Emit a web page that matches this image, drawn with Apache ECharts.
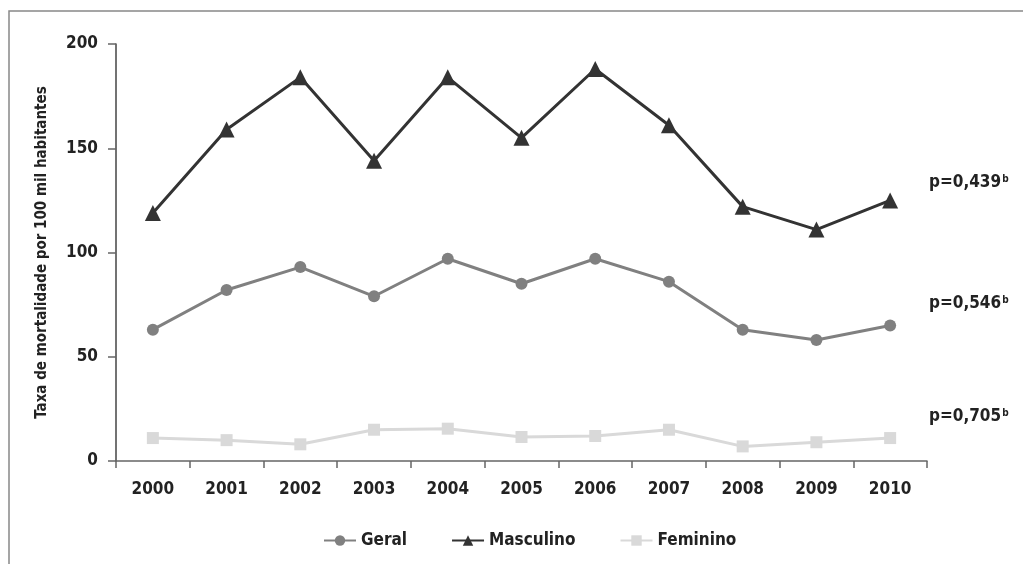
<!DOCTYPE html>
<html>
<head>
<meta charset="utf-8">
<script src="https://cdn.jsdelivr.net/npm/echarts@6/dist/echarts.min.js"></script>
<style>
  html, body { margin: 0; padding: 0; background: #fff; }
  #chart { width: 1023px; height: 564px; }
</style>
</head>
<body>
<div id="chart"></div>
<script>
const years = ['2000', '2001', '2002', '2003', '2004', '2005', '2006', '2007', '2008', '2009', '2010'];
const geral = [63, 82, 93, 79, 97, 85, 97, 86, 63, 58, 65];
const masculino = [119, 159, 184, 144, 184, 155, 188, 161, 122, 111, 125];
const feminino = [11, 10, 8, 15, 15.5, 11.5, 12, 15, 7, 9, 11];
const pLabels = ['p=0,439', 'p=0,546', 'p=0,705'];
const yTicks = [0, 50, 100, 150, 200];

const font = "'Liberation Sans Narrow', 'DejaVu Sans Condensed', sans-serif";
const chart = echarts.init(document.getElementById('chart'));

const pText = (label, top) => ({
  type: 'text',
  left: 929,
  top: top,
  style: {
    text: '{a|' + label + '}{s|b}',
    rich: {
      a: { fontFamily: font, fontWeight: 'bold', fontSize: 17, fill: '#222' },
      s: { fontFamily: font, fontWeight: 'bold', fontSize: 10, fill: '#222', padding: [0, 0, 8, 1] }
    }
  }
});

chart.setOption({
  animation: false,
  textStyle: { fontFamily: font },
  grid: { left: 116, right: 96, top: 44, bottom: 103 },
  graphic: [
    {
      type: 'rect',
      shape: { x: 9, y: 11, width: 1100, height: 600 },
      style: { fill: 'none', stroke: '#888', lineWidth: 1.5 },
      silent: true
    },
    pText(pLabels[0], 174),
    pText(pLabels[1], 295),
    pText(pLabels[2], 408)
  ],
  legend: {
    bottom: 10,
    left: 318,
    itemWidth: 32,
    itemHeight: 13,
    itemGap: 44,
    textStyle: { fontFamily: font, fontWeight: 'bold', fontSize: 17, color: '#222' },
    data: ['Geral', 'Masculino', 'Feminino']
  },
  xAxis: {
    type: 'category',
    data: years,
    boundaryGap: true,
    axisLine: { lineStyle: { color: '#666', width: 1.5 } },
    axisTick: { show: true, length: 7, lineStyle: { color: '#666', width: 1.5 } },
    axisLabel: { fontFamily: font, fontWeight: 'bold', fontSize: 17, color: '#222', margin: 20 }
  },
  yAxis: {
    type: 'value',
    min: yTicks[0],
    max: yTicks[yTicks.length - 1],
    interval: 50,
    name: 'Taxa de mortalidade por 100 mil habitantes',
    nameLocation: 'middle',
    nameGap: 66,
    nameTextStyle: { fontFamily: font, fontWeight: 'bold', fontSize: 15, color: '#222' },
    axisLine: { show: true, lineStyle: { color: '#444', width: 1.5 } },
    axisTick: { show: true, length: 8, lineStyle: { color: '#666', width: 1.5 } },
    splitLine: { show: false },
    axisLabel: { fontFamily: font, fontWeight: 'bold', fontSize: 17, color: '#222', margin: 18 }
  },
  series: [
    {
      name: 'Geral',
      type: 'line',
      data: geral,
      symbol: 'circle',
      symbolSize: 12,
      lineStyle: { color: '#808080', width: 3 },
      itemStyle: { color: '#808080' }
    },
    {
      name: 'Masculino',
      type: 'line',
      data: masculino,
      symbol: 'triangle',
      symbolSize: 16,
      lineStyle: { color: '#333', width: 3 },
      itemStyle: { color: '#333' }
    },
    {
      name: 'Feminino',
      type: 'line',
      data: feminino,
      symbol: 'rect',
      symbolSize: 12,
      lineStyle: { color: '#d9d9d9', width: 3 },
      itemStyle: { color: '#d9d9d9' }
    }
  ]
});
</script>
</body>
</html>
